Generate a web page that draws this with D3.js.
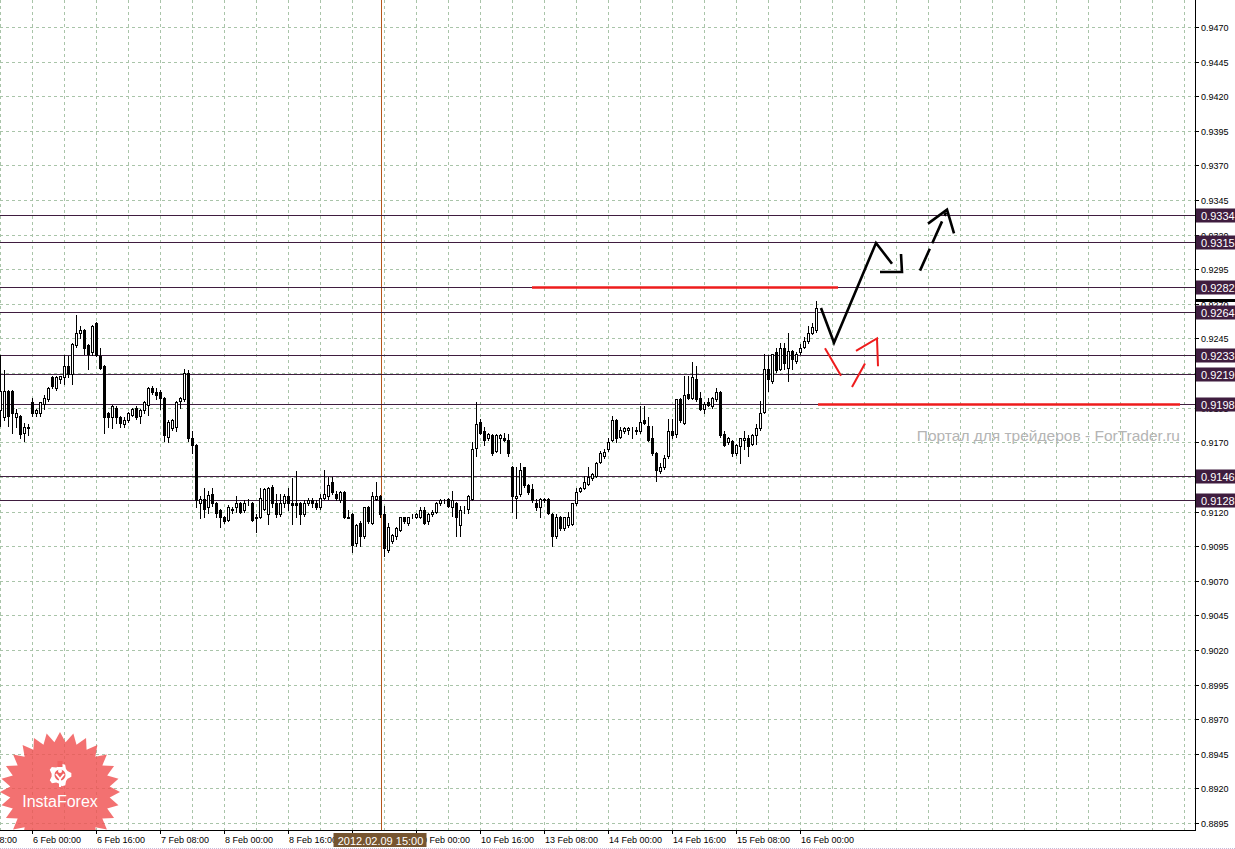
<html>
<head>
<meta charset="utf-8">
<title>USDCHF H1</title>
<style>
  body { margin: 0; background: #fff; }
  svg { display: block; font-family: "Liberation Sans", Arial, sans-serif; }
</style>
</head>
<body>
<script src="https://cdn.jsdelivr.net/npm/d3@7/dist/d3.min.js"></script>
<script>
// H1 candles, first one is 3 Feb 16:00 (index -8), index 0 = 6 Feb 00:00
var firstIndex = -8;
var opens = [
  0.9193,0.9188,0.9207,0.9207,0.9188,0.9189,0.9177,0.9181,
  0.9199,0.9191,0.9191,0.9198,0.9201,0.9217,0.9209,0.9216,0.9217,0.9225,
  0.9219,0.9240,0.9249,0.9251,0.9240,0.9235,0.9256,0.9232,0.9225,0.9191,
  0.9188,0.9195,0.9188,0.9183,0.9186,0.9190,0.9195,0.9189,0.9193,0.9197,
  0.9209,0.9206,0.9206,0.9202,0.9174,0.9180,0.9181,0.9200,0.9201,0.9220,
  0.9173,0.9168,0.9126,0.9129,0.9123,0.9133,0.9126,0.9121,0.9116,0.9114,
  0.9121,0.9123,0.9126,0.9121,0.9126,0.9126,0.9115,0.9116,0.9122,0.9118,
  0.9138,0.9126,0.9118,0.9126,0.9131,0.9126,0.9126,0.9126,0.9118,0.9126,
  0.9128,0.9126,0.9123,0.9130,0.9131,0.9141,0.9133,0.9128,0.9134,0.9116,
  0.9118,0.9097,0.9112,0.9102,0.9123,0.9112,0.9129,0.9131,0.9118,0.9092,
  0.9099,0.9102,0.9107,0.9116,0.9112,0.9116,0.9116,0.9116,0.9121,0.9113,
  0.9118,0.9120,0.9126,0.9128,0.9129,0.9123,0.9126,0.9110,0.9121,0.9122,
  0.9129,0.9166,0.9185,0.9178,0.9173,0.9175,0.9164,0.9173,0.9173,0.9172,
  0.9152,0.9130,0.9133,0.9152,0.9139,0.9136,0.9126,0.9123,0.9128,0.9129,
  0.9118,0.9102,0.9116,0.9108,0.9110,0.9111,0.9126,0.9135,0.9137,0.9140,
  0.9144,0.9146,0.9156,0.9160,0.9165,0.9172,0.9186,0.9174,0.9178,0.9179,
  0.9180,0.9178,0.9178,0.9186,0.9182,0.9173,0.9162,0.9149,0.9152,0.9160,
  0.9178,0.9176,0.9201,0.9184,0.9205,0.9202,0.9216,0.9202,0.9194,0.9199,
  0.9196,0.9201,0.9206,0.9176,0.9170,0.9171,0.9162,0.9167,0.9172,0.9173,
  0.9169,0.9175,0.9180,0.9192,0.9223,0.9214,0.9235,0.9223,0.9238,0.9224,
  0.9236,0.9229,0.9235,0.9239,0.9243,0.9249,0.9251
];
var highs = [
  0.9233,0.9222,0.9208,0.9208,0.9194,0.9190,0.9184,0.9183,
  0.9202,0.9194,0.9199,0.9204,0.9210,0.9218,0.9218,0.9218,0.9233,0.9232,
  0.9242,0.9262,0.9254,0.9252,0.9241,0.9255,0.9257,0.9238,0.9226,0.9192,
  0.9197,0.9196,0.9189,0.9188,0.9192,0.9195,0.9196,0.9194,0.9200,0.9210,
  0.9211,0.9209,0.9208,0.9203,0.9186,0.9187,0.9200,0.9203,0.9223,0.9222,
  0.9178,0.9169,0.9131,0.9137,0.9135,0.9137,0.9127,0.9122,0.9117,0.9125,
  0.9123,0.9131,0.9127,0.9128,0.9129,0.9127,0.9118,0.9137,0.9137,0.9138,
  0.9139,0.9133,0.9133,0.9133,0.9137,0.9144,0.9149,0.9127,0.9128,0.9130,
  0.9130,0.9128,0.9133,0.9150,0.9145,0.9145,0.9135,0.9135,0.9135,0.9121,
  0.9119,0.9111,0.9113,0.9123,0.9124,0.9134,0.9141,0.9132,0.9124,0.9112,
  0.9104,0.9109,0.9116,0.9116,0.9116,0.9118,0.9119,0.9123,0.9123,0.9119,
  0.9121,0.9127,0.9129,0.9129,0.9130,0.9135,0.9127,0.9124,0.9124,0.9132,
  0.9170,0.9199,0.9187,0.9181,0.9177,0.9176,0.9176,0.9176,0.9177,0.9176,
  0.9153,0.9152,0.9155,0.9152,0.9140,0.9140,0.9129,0.9130,0.9130,0.9130,
  0.9119,0.9118,0.9117,0.9116,0.9120,0.9126,0.9137,0.9138,0.9146,0.9152,
  0.9148,0.9156,0.9164,0.9165,0.9173,0.9189,0.9187,0.9181,0.9181,0.9181,
  0.9181,0.9181,0.9196,0.9196,0.9188,0.9182,0.9163,0.9155,0.9161,0.9187,
  0.9187,0.9201,0.9202,0.9218,0.9218,0.9228,0.9225,0.9206,0.9199,0.9202,
  0.9203,0.9209,0.9207,0.9178,0.9174,0.9172,0.9169,0.9173,0.9178,0.9175,
  0.9176,0.9183,0.9200,0.9234,0.9233,0.9234,0.9238,0.9242,0.9242,0.9249,
  0.9237,0.9235,0.9241,0.9246,0.9254,0.9256,0.9272
];
var lows = [
  0.9182,0.9186,0.9182,0.9177,0.9181,0.9173,0.9171,0.9175,
  0.9189,0.9189,0.9189,0.9194,0.9200,0.9209,0.9208,0.9213,0.9212,0.9217,
  0.9212,0.9239,0.9245,0.9234,0.9223,0.9233,0.9232,0.9223,0.9177,0.9181,
  0.9180,0.9184,0.9181,0.9181,0.9185,0.9189,0.9187,0.9184,0.9191,0.9190,
  0.9205,0.9201,0.9194,0.9171,0.9170,0.9179,0.9178,0.9195,0.9200,0.9171,
  0.9162,0.9123,0.9115,0.9116,0.9119,0.9124,0.9116,0.9109,0.9112,0.9113,
  0.9119,0.9120,0.9119,0.9120,0.9125,0.9113,0.9105,0.9115,0.9121,0.9111,
  0.9123,0.9116,0.9117,0.9123,0.9121,0.9111,0.9116,0.9111,0.9117,0.9125,
  0.9123,0.9122,0.9122,0.9129,0.9129,0.9133,0.9128,0.9127,0.9115,0.9115,
  0.9091,0.9095,0.9095,0.9101,0.9112,0.9111,0.9128,0.9116,0.9088,0.9091,
  0.9097,0.9100,0.9106,0.9112,0.9110,0.9115,0.9115,0.9115,0.9111,0.9111,
  0.9117,0.9119,0.9125,0.9126,0.9123,0.9117,0.9102,0.9102,0.9119,0.9119,
  0.9128,0.9160,0.9176,0.9168,0.9172,0.9161,0.9163,0.9162,0.9171,0.9160,
  0.9120,0.9115,0.9131,0.9138,0.9133,0.9127,0.9121,0.9116,0.9127,0.9118,
  0.9095,0.9101,0.9107,0.9107,0.9109,0.9110,0.9125,0.9134,0.9136,0.9139,
  0.9143,0.9145,0.9155,0.9159,0.9164,0.9171,0.9170,0.9173,0.9177,0.9176,
  0.9173,0.9176,0.9177,0.9183,0.9171,0.9161,0.9142,0.9148,0.9151,0.9159,
  0.9173,0.9174,0.9185,0.9183,0.9201,0.9201,0.9200,0.9193,0.9191,0.9196,
  0.9195,0.9200,0.9174,0.9167,0.9169,0.9160,0.9161,0.9155,0.9165,0.9160,
  0.9168,0.9169,0.9179,0.9191,0.9207,0.9213,0.9221,0.9222,0.9223,0.9214,
  0.9223,0.9227,0.9234,0.9238,0.9242,0.9248,0.9250
];
var closes = [
  0.9207,0.9207,0.9189,0.9191,0.9191,0.9176,0.9181,0.9180,
  0.9191,0.9193,0.9199,0.9202,0.9209,0.9211,0.9217,0.9218,0.9225,0.9219,
  0.9241,0.9249,0.9251,0.9238,0.9234,0.9254,0.9233,0.9224,0.9188,0.9188,
  0.9196,0.9188,0.9184,0.9186,0.9191,0.9194,0.9188,0.9193,0.9199,0.9209,
  0.9206,0.9204,0.9202,0.9175,0.9185,0.9186,0.9199,0.9202,0.9220,0.9173,
  0.9168,0.9128,0.9129,0.9122,0.9132,0.9126,0.9119,0.9116,0.9113,0.9123,
  0.9122,0.9126,0.9120,0.9126,0.9126,0.9114,0.9116,0.9130,0.9136,0.9137,
  0.9126,0.9118,0.9126,0.9131,0.9126,0.9125,0.9125,0.9118,0.9126,0.9128,
  0.9126,0.9123,0.9130,0.9133,0.9139,0.9134,0.9130,0.9134,0.9116,0.9115,
  0.9096,0.9110,0.9102,0.9123,0.9113,0.9131,0.9131,0.9118,0.9094,0.9109,
  0.9103,0.9108,0.9116,0.9113,0.9116,0.9116,0.9118,0.9121,0.9112,0.9118,
  0.9120,0.9126,0.9128,0.9128,0.9124,0.9128,0.9116,0.9121,0.9121,0.9131,
  0.9165,0.9183,0.9177,0.9172,0.9176,0.9162,0.9175,0.9175,0.9172,0.9162,
  0.9131,0.9131,0.9150,0.9139,0.9134,0.9128,0.9123,0.9129,0.9129,0.9119,
  0.9102,0.9116,0.9108,0.9116,0.9116,0.9126,0.9134,0.9137,0.9141,0.9145,
  0.9147,0.9155,0.9162,0.9163,0.9170,0.9186,0.9173,0.9179,0.9180,0.9180,
  0.9180,0.9179,0.9185,0.9184,0.9172,0.9162,0.9150,0.9152,0.9159,0.9178,
  0.9175,0.9201,0.9186,0.9204,0.9202,0.9217,0.9201,0.9194,0.9198,0.9197,
  0.9202,0.9206,0.9175,0.9168,0.9173,0.9162,0.9168,0.9173,0.9173,0.9167,
  0.9175,0.9180,0.9191,0.9223,0.9216,0.9234,0.9222,0.9238,0.9227,0.9236,
  0.9230,0.9234,0.9238,0.9243,0.9249,0.9253,0.9267
];

// time axis labels (bar index of each label)
var timeIdx = [-16, 0, 16, 32, 48, 64, 80, 96, 112, 128, 144, 160, 176, 192];
var timeLabels = ["3 Feb 08:00", "6 Feb 00:00", "6 Feb 16:00", "7 Feb 08:00", "8 Feb 00:00",
  "8 Feb 16:00", "9 Feb 08:00", "10 Feb 00:00", "10 Feb 16:00", "13 Feb 08:00",
  "14 Feb 00:00", "14 Feb 16:00", "15 Feb 08:00", "16 Feb 00:00"];

// price levels drawn by hand
var levels = [0.9334, 0.9315, 0.9282, 0.9264, 0.9233, 0.9219, 0.9198, 0.9146, 0.9128];
var bidPrice = 0.9272;
var crossIdx = 87, crossLabel = "2012.02.09 15:00";

// forecast drawings [bar index, price]
var blackPath = [[197.25, 0.9267], [200.5, 0.9242], [211, 0.9314], [215, 0.9299]];
var blackHead1 = [[217.25, 0.9306], [217.5, 0.9293], [212, 0.9293]];
var blackDash = [[222, 0.9294], [228.5, 0.9336]];
var blackHead2 = [[224, 0.9328], [228.75, 0.9338], [230.5, 0.9321]];
var redSeg1 = [[198.25, 0.9238], [202.25, 0.9218]];
var redSeg2 = [[205, 0.9210], [208.25, 0.9227]];
var redHead = [[206, 0.9236], [211.25, 0.9245], [211.5, 0.9225]];
var redLines = [[125, 201.5, 0.9282], [196.5, 287, 0.9198]];

var width = 1235, height = 849;
var plotR = 1195, plotB = 830;

var svg = d3.select("body").append("svg")
    .attr("width", width).attr("height", height);

var x = d3.scaleLinear().domain([-8, 290.75]).range([0, plotR]);
var y = d3.scaleLinear().domain([0.8895, 0.9470]).range([823, 27]);

var priceTicks = d3.range(0, 24).map(function (k) { return +(0.8895 + 0.0025 * k).toFixed(4); });

var plot = svg.append("g");
plot.append("clipPath").attr("id", "clip")
    .append("rect").attr("width", plotR).attr("height", plotB);
var g = plot.append("g").attr("clip-path", "url(#clip)");

// grid
var gridColor = "#a9c4a9";
g.selectAll(".hgrid").data(priceTicks.concat([0.9495])).enter().append("line")
    .attr("x1", 0).attr("x2", plotR)
    .attr("y1", function (d) { return Math.round(y(d)) + 0.5; })
    .attr("y2", function (d) { return Math.round(y(d)) + 0.5; })
    .attr("stroke", gridColor).attr("stroke-dasharray", "3,3");
var vIdx = d3.range(-8, 292, 8);
g.selectAll(".vgrid").data(vIdx).enter().append("line")
    .attr("x1", function (d) { return Math.round(x(d)) + 0.5; })
    .attr("x2", function (d) { return Math.round(x(d)) + 0.5; })
    .attr("y1", 0).attr("y2", plotB)
    .attr("stroke", gridColor).attr("stroke-dasharray", "3,3");

// logo (behind)
var logo = g.append("g").attr("transform", "translate(60,792)");
var star = [];
for (var k = 0; k < 56; k++) {
  var r = k % 2 === 0 ? 60 : 50, a = Math.PI * k / 28 - Math.PI / 2;
  star.push([r * Math.cos(a), r * Math.sin(a)]);
}
logo.append("path").attr("d", d3.line()(star) + "Z")
    .attr("fill", "#f05252").attr("opacity", 0.82);
var gear = [];
for (var k = 0; k < 20; k++) {
  var r = (k % 4 < 2) ? 11.5 : 8.5, a = Math.PI * 2 * k / 20 - Math.PI / 2 + 0.15;
  gear.push([r * Math.cos(a), -17 + r * Math.sin(a)]);
}
logo.append("path").attr("d", d3.line()(gear) + "Z").attr("fill", "#fff");
logo.append("circle").attr("cx", 0).attr("cy", -17).attr("r", 5.5).attr("fill", "#f06262");
logo.append("rect").attr("x", -2.5).attr("y", -31).attr("width", 5).attr("height", 6).attr("fill", "#f06262");
logo.append("circle").attr("cx", 0).attr("cy", -21).attr("r", 2).attr("fill", "#fff");
logo.append("path").attr("d", "M-4,-18 L0,-13 L4,-18 M0,-13 L0,-5")
    .attr("stroke", "#fff").attr("stroke-width", 2).attr("fill", "none");
logo.append("text").attr("x", 0).attr("y", 15).attr("text-anchor", "middle")
    .attr("fill", "#fff").attr("font-size", 16).text("InstaForex");

// crosshair
g.append("line")
    .attr("x1", Math.round(x(crossIdx)) + 1.5).attr("x2", Math.round(x(crossIdx)) + 1.5)
    .attr("y1", 0).attr("y2", plotB).attr("stroke", "#b5561c");

// watermark
g.append("text").attr("x", 1180).attr("y", 441).attr("text-anchor", "end")
    .attr("fill", "#b4b4b4").attr("font-size", 15.5)
    .text("Портал для трейдеров - ForTrader.ru");

// level lines
g.selectAll(".lvl").data(levels).enter().append("line")
    .attr("x1", 0).attr("x2", plotR)
    .attr("y1", function (d) { return Math.round(y(d)) + 0.5; })
    .attr("y2", function (d) { return Math.round(y(d)) + 0.5; })
    .attr("stroke", "#3f1d3f");

// red horizontal lines
g.selectAll(".rl").data(redLines).enter().append("line")
    .attr("x1", function (d) { return x(d[0]); }).attr("x2", function (d) { return x(d[1]); })
    .attr("y1", function (d) { return Math.round(y(d[2])) + 0.5; })
    .attr("y2", function (d) { return Math.round(y(d[2])) + 0.5; })
    .attr("stroke", "#ee1c1c").attr("stroke-width", 2.5);

// candles
var bars = opens.map(function (o, k) {
  return { i: firstIndex + k, o: o, h: highs[k], l: lows[k], c: closes[k] };
});
var cg = g.append("g");
cg.selectAll(".wick").data(bars).enter().append("line")
    .attr("x1", function (d) { return Math.round(x(d.i)) + 0.5; })
    .attr("x2", function (d) { return Math.round(x(d.i)) + 0.5; })
    .attr("y1", function (d) { return Math.round(y(d.h)); })
    .attr("y2", function (d) { return Math.round(y(d.l)) + 1; })
    .attr("stroke", "#000");
cg.selectAll(".body").data(bars).enter().append("rect")
    .attr("x", function (d) { return Math.round(x(d.i)) - 0.5; })
    .attr("y", function (d) { return Math.round(y(Math.max(d.o, d.c))) + 0.5; })
    .attr("width", 2)
    .attr("height", function (d) { return Math.max(0, Math.round(y(Math.min(d.o, d.c))) - Math.round(y(Math.max(d.o, d.c)))); })
    .attr("fill", function (d) { return d.c >= d.o ? "#fff" : "#000"; })
    .attr("stroke", "#000");

// forecast arrows
var line = d3.line().x(function (d) { return x(d[0]); }).y(function (d) { return y(d[1]); });
function draw(pts, color, w, dash) {
  var p = g.append("path").attr("d", line(pts)).attr("fill", "none")
      .attr("stroke", color).attr("stroke-width", w)
      .attr("stroke-linejoin", "miter").attr("stroke-linecap", "butt");
  if (dash) p.attr("stroke-dasharray", dash);
}
draw(blackPath, "#000", 2.6);
draw(blackHead1, "#000", 2.6);
draw(blackDash, "#000", 2.6, "24,6");
draw(blackHead2, "#000", 2.6);
draw(redSeg1, "#ee1c1c", 2);
draw(redSeg2, "#ee1c1c", 2);
draw(redHead, "#ee1c1c", 2);

// axes
svg.append("line").attr("x1", plotR + 0.5).attr("x2", plotR + 0.5).attr("y1", 0).attr("y2", plotB + 1)
    .attr("stroke", "#000");
svg.append("line").attr("x1", 0).attr("x2", plotR + 1).attr("y1", plotB + 0.5).attr("y2", plotB + 0.5)
    .attr("stroke", "#000");

var yAxis = svg.append("g");
yAxis.selectAll(".yt").data(priceTicks).enter().append("line")
    .attr("x1", plotR + 1).attr("x2", plotR + 4)
    .attr("y1", function (d) { return Math.round(y(d)) + 0.5; })
    .attr("y2", function (d) { return Math.round(y(d)) + 0.5; })
    .attr("stroke", "#000");
yAxis.selectAll(".yl").data(priceTicks).enter().append("text")
    .attr("x", 1201).attr("y", function (d) { return Math.round(y(d)) + 4; })
    .attr("font-size", 9).attr("fill", "#000")
    .text(function (d) { return d.toFixed(4); });

// bid marker
svg.append("rect").attr("x", plotR + 1).attr("y", Math.round(y(bidPrice)) - 2)
    .attr("width", width - plotR - 1).attr("height", 3).attr("fill", "#000");

// level boxes
var lb = svg.selectAll(".lb").data(levels).enter().append("g")
    .attr("transform", function (d) { return "translate(" + (plotR + 1) + "," + Math.round(y(d)) + ")"; });
lb.append("rect").attr("x", 0).attr("y", -6.5).attr("width", width - plotR - 1).attr("height", 14)
    .attr("fill", "#3f1d3f");
lb.append("text").attr("x", 5).attr("y", 4.5).attr("font-size", 11).attr("fill", "#fff")
    .text(function (d) { return d.toFixed(4); });

// time axis
var xAxis = svg.append("g");
xAxis.selectAll(".xt").data(timeIdx).enter().append("line")
    .attr("x1", function (d) { return Math.round(x(d)) + 0.5; })
    .attr("x2", function (d) { return Math.round(x(d)) + 0.5; })
    .attr("y1", plotB).attr("y2", plotB + 4).attr("stroke", "#000");
xAxis.selectAll(".xl").data(timeIdx).enter().append("text")
    .attr("x", function (d) { return Math.round(x(d)) + 1; })
    .attr("y", 843).attr("font-size", 9).attr("fill", "#000")
    .text(function (d, k) { return timeLabels[k]; });

// crosshair time box
var cx = Math.round(x(crossIdx)) + 1.5;
svg.append("rect").attr("x", cx - 48).attr("y", 833).attr("width", 93).attr("height", 14)
    .attr("fill", "#765530");
svg.append("text").attr("x", cx - 1).attr("y", 844.5).attr("text-anchor", "middle")
    .attr("font-size", 11).attr("fill", "#fff").text(crossLabel);

svg.append("line").attr("x1", 0).attr("x2", width).attr("y1", 848.5).attr("y2", 848.5)
    .attr("stroke", "#c8b8d8").attr("stroke-dasharray", "1,1");
</script>
</body>
</html>
